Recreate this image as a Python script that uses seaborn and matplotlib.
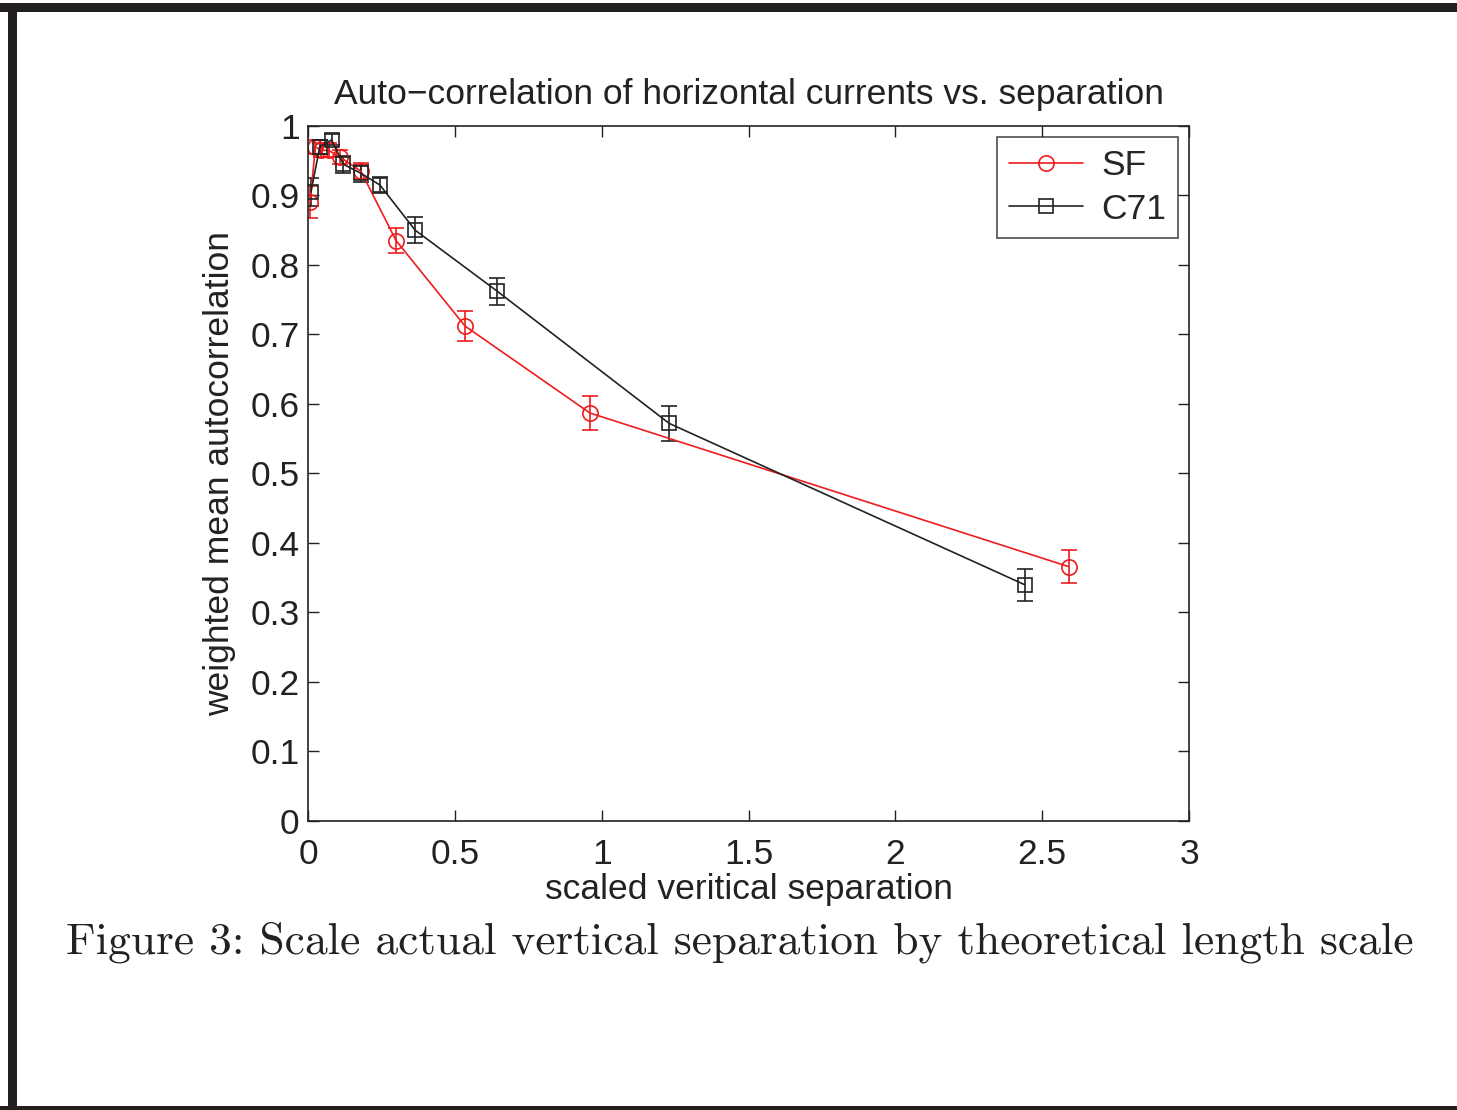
import matplotlib
matplotlib.use('Agg')
import matplotlib.pyplot as plt
import seaborn as sns
import pandas as pd
from matplotlib.patches import Rectangle

# values
sf_x = [0.007, 0.025, 0.045, 0.07, 0.11, 0.18, 0.30, 0.535, 0.96, 2.59]
sf_y = [0.89, 0.97, 0.965, 0.965, 0.955, 0.935, 0.835, 0.712, 0.587, 0.366]
sf_err = [0.023, 0.01, 0.01, 0.01, 0.01, 0.012, 0.018, 0.022, 0.025, 0.024]

c71_x = [0.01, 0.04, 0.08, 0.12, 0.18, 0.245, 0.365, 0.645, 1.23, 2.44]
c71_y = [0.905, 0.97, 0.98, 0.945, 0.932, 0.915, 0.85, 0.762, 0.572, 0.34]
c71_err = [0.02, 0.01, 0.008, 0.012, 0.012, 0.012, 0.019, 0.019, 0.025, 0.023]

x_ticks = [0, 0.5, 1, 1.5, 2, 2.5, 3]
x_labels = ['0', '0.5', '1', '1.5', '2', '2.5', '3']
y_ticks = [0, 0.1, 0.2, 0.3, 0.4, 0.5, 0.6, 0.7, 0.8, 0.9, 1]
y_labels = ['0', '0.1', '0.2', '0.3', '0.4', '0.5', '0.6', '0.7', '0.8', '0.9', '1']

sns.set_style('ticks')
plt.rcParams['font.family'] = ['Liberation Sans', 'DejaVu Sans']

fs = 25.5
fig = plt.figure(figsize=(14.57, 11.10), dpi=100)
ax = fig.add_axes([0.2114, 0.2604, 0.6047, 0.6261])

sf = pd.DataFrame({'x': sf_x, 'y': sf_y})
c71 = pd.DataFrame({'x': c71_x, 'y': c71_y})

red = '#ee1c1c'
dark = '#222222'
ax.errorbar(sf_x, sf_y, yerr=sf_err, fmt='none', ecolor=red, elinewidth=1.2, capsize=6, capthick=1.2)
ax.errorbar(c71_x, c71_y, yerr=c71_err, fmt='none', ecolor=dark, elinewidth=1.2, capsize=6, capthick=1.2)
sns.lineplot(data=sf, x='x', y='y', sort=False, color=red, marker='o', markersize=11,
             markerfacecolor='none', markeredgecolor=red, markeredgewidth=1.2, linewidth=1.2, label='SF', ax=ax)
sns.lineplot(data=c71, x='x', y='y', sort=False, color=dark, marker='s', markersize=10,
             markerfacecolor='none', markeredgecolor=dark, markeredgewidth=1.2, linewidth=1.2, label='C71', ax=ax)

ax.set_xlim(0, 3)
ax.set_ylim(0, 1)
ax.set_xticks(x_ticks)
ax.set_xticklabels(x_labels)
ax.set_yticks(y_ticks)
ax.set_yticklabels(y_labels)
ax.tick_params(direction='in', length=8, width=1, labelsize=fs, top=True, right=True, colors=dark)
ax.tick_params(axis='x', pad=12)
ax.tick_params(axis='y', pad=6)
for s in ax.spines.values():
    s.set_visible(True)
    s.set_linewidth(1.2)
    s.set_color(dark)

ax.set_title('Auto\u2212correlation of horizontal currents vs. separation', fontsize=fs, pad=16, color=dark)
ax.set_xlabel('scaled veritical separation', fontsize=fs, labelpad=2, color=dark)
ax.set_ylabel('weighted mean autocorrelation', fontsize=fs, labelpad=10, color=dark)

leg = ax.legend(loc='upper right', fontsize=fs, frameon=True, fancybox=False, handlelength=2.1,
                borderaxespad=0.3, labelspacing=0.3, handletextpad=0.5, borderpad=0.35)
leg.get_frame().set_edgecolor(dark)
leg.get_frame().set_linewidth(1.2)

fig.text(0.045, 0.141, 'Figure 3: Scale actual vertical separation by theoretical length scale',
         family=['cmr10', 'DejaVu Serif'], fontsize=32.7, color=dark)

# page border
fig.add_artist(Rectangle((0, 1 - 12 / 1110), 1, 9 / 1110, transform=fig.transFigure, color='#231f20', lw=0))
fig.add_artist(Rectangle((8 / 1457, 0), 9 / 1457, 1 - 3 / 1110, transform=fig.transFigure, color='#231f20', lw=0))
fig.add_artist(Rectangle((0, 0), 1, 4 / 1110, transform=fig.transFigure, color='#231f20', lw=0))

fig.savefig('out.png', dpi=100)
plt.close()
